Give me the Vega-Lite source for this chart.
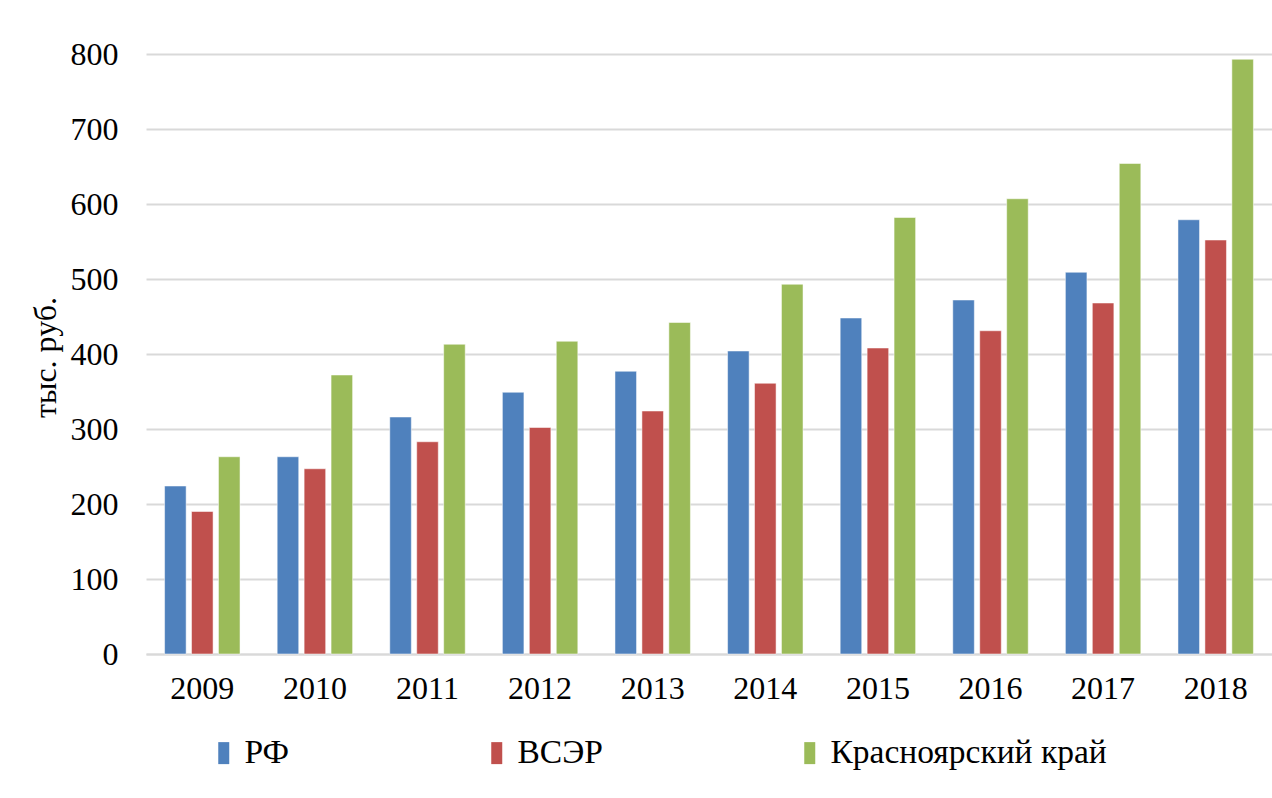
{
  "$schema": "https://vega.github.io/schema/vega-lite/v6.json",
  "autosize": "none",
  "width": 1126,
  "height": 600,
  "padding": {"left": 146, "top": 54, "right": 0, "bottom": 144},
  "background": "white",
  "data": {
    "values": [
      {"year": "2009", "series": "РФ", "value": 224},
      {"year": "2009", "series": "ВСЭР", "value": 190},
      {"year": "2009", "series": "Красноярский край", "value": 263},
      {"year": "2010", "series": "РФ", "value": 263},
      {"year": "2010", "series": "ВСЭР", "value": 247},
      {"year": "2010", "series": "Красноярский край", "value": 372},
      {"year": "2011", "series": "РФ", "value": 316},
      {"year": "2011", "series": "ВСЭР", "value": 283},
      {"year": "2011", "series": "Красноярский край", "value": 413},
      {"year": "2012", "series": "РФ", "value": 349},
      {"year": "2012", "series": "ВСЭР", "value": 302},
      {"year": "2012", "series": "Красноярский край", "value": 417},
      {"year": "2013", "series": "РФ", "value": 377},
      {"year": "2013", "series": "ВСЭР", "value": 324},
      {"year": "2013", "series": "Красноярский край", "value": 442},
      {"year": "2014", "series": "РФ", "value": 404},
      {"year": "2014", "series": "ВСЭР", "value": 361},
      {"year": "2014", "series": "Красноярский край", "value": 493},
      {"year": "2015", "series": "РФ", "value": 448},
      {"year": "2015", "series": "ВСЭР", "value": 408},
      {"year": "2015", "series": "Красноярский край", "value": 582},
      {"year": "2016", "series": "РФ", "value": 472},
      {"year": "2016", "series": "ВСЭР", "value": 431},
      {"year": "2016", "series": "Красноярский край", "value": 607},
      {"year": "2017", "series": "РФ", "value": 509},
      {"year": "2017", "series": "ВСЭР", "value": 468},
      {"year": "2017", "series": "Красноярский край", "value": 654},
      {"year": "2018", "series": "РФ", "value": 579},
      {"year": "2018", "series": "ВСЭР", "value": 552},
      {"year": "2018", "series": "Красноярский край", "value": 793}
    ]
  },
  "mark": {"type": "bar", "stroke": "#ffffff", "strokeOpacity": 0.5, "strokeWidth": 1},
  "encoding": {
    "x": {
      "field": "year",
      "type": "nominal",
      "scale": {"paddingInner": 0.33, "paddingOuter": 0.165},
      "axis": {
        "title": null,
        "labelAngle": 0,
        "labelFont": "Liberation Serif",
        "labelFontSize": 32,
        "labelColor": "#000000",
        "labelPadding": 19,
        "ticks": false,
        "domain": true,
        "domainColor": "#d9d9d9",
        "domainWidth": 2
      }
    },
    "xOffset": {
      "field": "series",
      "type": "nominal",
      "sort": ["РФ", "ВСЭР", "Красноярский край"],
      "scale": {"paddingInner": 0.2, "paddingOuter": 0}
    },
    "y": {
      "field": "value",
      "type": "quantitative",
      "scale": {"domain": [0, 800], "nice": false},
      "axis": {
        "title": "тыс. руб.",
        "values": [0, 100, 200, 300, 400, 500, 600, 700, 800],
        "titleFont": "Liberation Serif",
        "titleFontSize": 32,
        "titleFontWeight": "normal",
        "titleColor": "#000000",
        "titleX": -101,
        "titleY": 303,
        "titleAngle": -90,
        "titleAlign": "center",
        "titleBaseline": "middle",
        "labelFont": "Liberation Serif",
        "labelFontSize": 32,
        "labelColor": "#000000",
        "labelPadding": 28,
        "ticks": false,
        "domain": false,
        "grid": true,
        "gridColor": "#d9d9d9",
        "gridWidth": 2
      }
    },
    "color": {
      "field": "series",
      "type": "nominal",
      "sort": ["РФ", "ВСЭР", "Красноярский край"],
      "scale": {
        "domain": ["РФ", "ВСЭР", "Красноярский край"],
        "range": ["#4F81BD", "#C0504D", "#9BBB59"]
      },
      "legend": {
        "title": null,
        "orient": "none",
        "direction": "horizontal",
        "legendX": 61,
        "legendY": 682,
        "symbolType": "M-0.5,-1H0.5V1H-0.5Z",
        "symbolSize": 484,
        "symbolStrokeWidth": 0,
        "labelFont": "Liberation Serif",
        "labelFontSize": 33.5,
        "labelColor": "#000000",
        "labelOffset": 4,
        "labelLimit": 400,
        "columnPadding": 190
      }
    }
  },
  "config": {"view": {"stroke": null}}
}
